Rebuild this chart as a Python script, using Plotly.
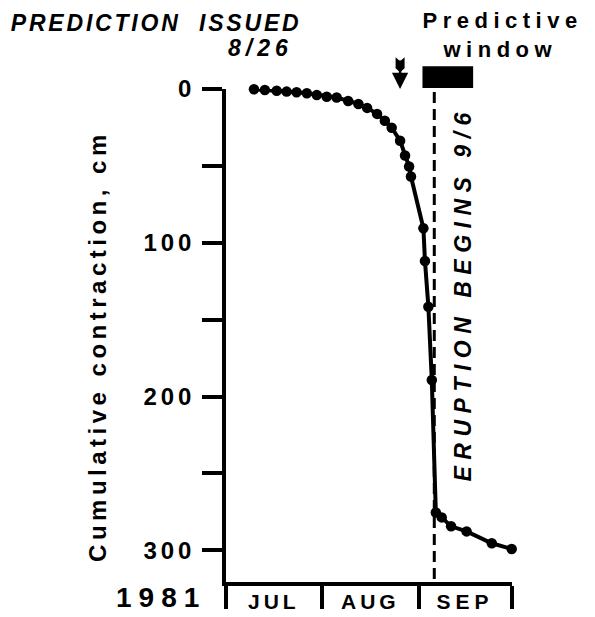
import json
import plotly.graph_objects as go

# ---- data (days since 1 July 1981, cumulative contraction in cm) ----
days = [9.0, 12.5, 16.3, 19.5, 22.7, 26.0, 29.2, 32.4, 35.6, 39.3, 42.6, 45.4,
        48.6, 51.1, 53.3, 56.0, 57.6, 58.9, 59.5, 63.5, 64.0, 65.1, 66.2,
        67.5, 69.4, 72.4, 77.4, 85.5, 91.9]
contraction = [0.2, 0.6, 1.1, 1.7, 2.1, 2.8, 3.9, 5.0, 5.5, 7.8, 9.7, 12.3,
               16.2, 20.7, 25.2, 33.6, 43.3, 50.4, 56.9, 90.5, 111.8, 141.6, 189.2,
               275.4, 278.6, 284.4, 287.7, 295.4, 299.1]

month_bounds = [0, 31, 62, 92]
month_labels = ["JUL", "AUG", "SEP"]
year_label = "1981"

y_tickvals = [0, 50, 100, 150, 200, 250, 300]
y_ticktext = ["0", "", "100", "", "200", "", "300"]
y_max = 320.6

prediction_day = 56      # 8/26
eruption_day = 67        # 9/6
window_start = 63.2
window_end = 79.5

FONT = "Liberation Sans, Arial, sans-serif"

fig = go.Figure()
fig.add_trace(go.Scatter(
    x=days, y=contraction, mode="lines+markers",
    line=dict(color="black", width=4),
    marker=dict(color="black", size=10.5),
    cliponaxis=False, showlegend=False, hoverinfo="skip"))

W, H = 595, 617
L, R, T, B = 226, 83, 89, 32
pw, ph = W - L - R, H - T - B

def px_x(px):
    return (px - L) / pw

def px_y(py):
    return (H - B - py) / ph

shapes = []
# eruption dashed line
shapes.append(dict(type="line", xref="x", yref="y", x0=eruption_day, x1=eruption_day,
                   y0=2, y1=y_max, line=dict(color="black", width=3, dash="11px,6px")))
# predictive window bar
shapes.append(dict(type="rect", xref="x", yref="paper", x0=window_start, x1=window_end,
                   y0=px_y(88), y1=px_y(66), fillcolor="black", line=dict(width=0)))
# arrow fletching
shapes.append(dict(type="path", xref="x", yref="paper", xsizemode="pixel", ysizemode="pixel",
                   xanchor=prediction_day, yanchor=px_y(57),
                   path="M -4.5,0 L 0,-4 L 4.5,0 L 4.5,-11 L 0,-15 L -4.5,-11 Z",
                   fillcolor="black", line=dict(width=0)))

ann = []
# arrow
ann.append(dict(x=prediction_day, y=px_y(89), xref="x", yref="paper", ax=0, ay=-30,
                showarrow=True, arrowhead=2, arrowsize=1.3, arrowwidth=2.5,
                arrowcolor="black", text=""))
# month labels
for i, m in enumerate(month_labels):
    ann.append(dict(x=(month_bounds[i] + month_bounds[i + 1]) / 2, y=px_y(605),
                    xref="x", yref="paper", text=m, showarrow=False,
                    font=dict(family=FONT, size=21, color="black", weight="bold"),
                    xanchor="center", yanchor="middle"))
ann.append(dict(x=px_x(161), y=px_y(601), xref="paper", yref="paper", text=year_label,
                showarrow=False, font=dict(family=FONT, size=28, color="black", weight="bold"),
                xanchor="center", yanchor="middle"))
ann.append(dict(x=px_x(97), y=px_y(348), xref="paper", yref="paper",
                text="Cumulative contraction, cm", textangle=-90, showarrow=False,
                font=dict(family=FONT, size=24, color="black", weight="bold"),
                xanchor="center", yanchor="middle"))
ann.append(dict(x=px_x(463), y=px_y(295), xref="paper", yref="paper",
                text="ERUPTION BEGINS 9/6", textangle=-90, showarrow=False,
                font=dict(family=FONT, size=23, color="black", weight="bold", style="italic"),
                xanchor="center", yanchor="middle"))
ann.append(dict(x=px_x(156), y=px_y(23), xref="paper", yref="paper",
                text="PREDICTION  ISSUED", showarrow=False,
                font=dict(family=FONT, size=23, color="black", weight="bold", style="italic"),
                xanchor="center", yanchor="middle"))
ann.append(dict(x=px_x(260), y=px_y(48), xref="paper", yref="paper",
                text="8/26", showarrow=False,
                font=dict(family=FONT, size=23, color="black", weight="bold", style="italic"),
                xanchor="center", yanchor="middle"))
ann.append(dict(x=px_x(502), y=px_y(20), xref="paper", yref="paper",
                text="Predictive", showarrow=False,
                font=dict(family=FONT, size=22, color="black", weight="bold"),
                xanchor="center", yanchor="middle"))
ann.append(dict(x=px_x(500), y=px_y(49), xref="paper", yref="paper",
                text="window", showarrow=False,
                font=dict(family=FONT, size=22, color="black", weight="bold"),
                xanchor="center", yanchor="middle"))

fig.update_layout(
    width=W, height=H, margin=dict(l=L, r=R, t=T, b=B),
    paper_bgcolor="white", plot_bgcolor="white",
    shapes=shapes, annotations=ann,
    xaxis=dict(range=[month_bounds[0], month_bounds[-1]], showgrid=False, zeroline=False,
               showline=True, linecolor="black", linewidth=4,
               tickmode="array", tickvals=month_bounds, showticklabels=False,
               ticks="outside", ticklen=23, tickwidth=3.5, tickcolor="black"),
    yaxis=dict(range=[y_max, 0], showgrid=False, zeroline=False,
               showline=True, linecolor="black", linewidth=3.5,
               tickmode="array", tickvals=y_tickvals, ticktext=y_ticktext,
               ticks="outside", ticklen=20, tickwidth=3.5, tickcolor="black",
               ticklabelstandoff=2,
               tickfont=dict(family=FONT, size=24, color="black", weight="bold")),
)

spacing = {"Cumulative contraction, cm": 4.5, "ERUPTION BEGINS 9/6": 6.5,
           "PREDICTION  ISSUED": 2.8, "8/26": 5, "Predictive": 5.5, "window": 5.5,
           "JUL": 4, "AUG": 4, "SEP": 5, "1981": 7,
           "0": 4, "100": 4, "200": 4, "300": 4}
js = ("document.documentElement.style.margin='0';document.body.style.margin='0';"
      "document.body.style.padding='0';"
      "var gd=document.getElementById('{plot_id}');var sp=" + json.dumps(spacing) +
      ";gd.querySelectorAll('text').forEach(function(t){var v=sp[t.textContent];"
      "if(v!==undefined){t.style.letterSpacing=v+'px';}});")

fig.write_html("out.html", post_script=js, config={"displayModeBar": False})
